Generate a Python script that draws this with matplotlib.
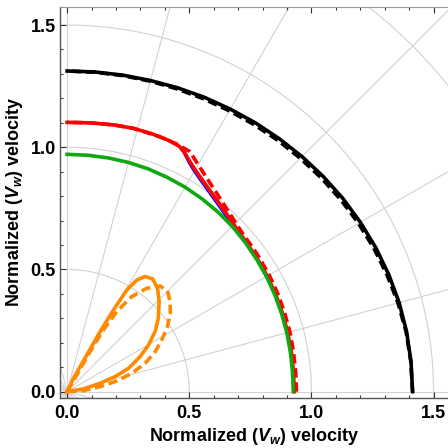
import numpy as np
import matplotlib as mpl
import matplotlib.pyplot as plt
from matplotlib.ticker import MultipleLocator

mpl.rcParams['font.family'] = ['Liberation Sans', 'DejaVu Sans']
mpl.rcParams['font.weight'] = 'bold'
mpl.rcParams['mathtext.fontset'] = 'custom'
mpl.rcParams['mathtext.rm'] = 'Liberation Sans:bold'
mpl.rcParams['mathtext.it'] = 'Liberation Sans:bold:italic'
mpl.rcParams['mathtext.bf'] = 'Liberation Sans:bold'

# polar curves: angle in degrees, normalized radius
black_theta = [0, 5, 10, 15, 20, 25, 30, 35, 40, 45, 50, 55, 60, 65, 70, 75, 80, 85, 90]
black_r = [1.414, 1.413, 1.411, 1.407, 1.401, 1.394, 1.386, 1.378, 1.369, 1.360,
           1.351, 1.343, 1.335, 1.329, 1.323, 1.318, 1.315, 1.313, 1.312]
black_dash_r = [1.414, 1.412, 1.409, 1.402, 1.394, 1.386, 1.377, 1.368, 1.359, 1.350,
                1.342, 1.334, 1.327, 1.322, 1.318, 1.315, 1.313, 1.312, 1.312]

green_theta = [0, 5, 10, 15, 20, 25, 30, 35, 40, 45, 50, 55, 60, 65, 70, 75, 80, 85, 90]
green_r = [0.926, 0.926, 0.928, 0.931, 0.934, 0.938, 0.942, 0.946, 0.951, 0.956,
           0.960, 0.963, 0.966, 0.968, 0.970, 0.971, 0.971, 0.971, 0.971]

red_theta = [0, 5, 10, 15, 20, 25, 30, 35, 40, 44, 48, 52, 56, 60, 62, 64, 65.5, 68, 72, 76, 80, 85, 90]
red_r = [0.930, 0.930, 0.932, 0.935, 0.938, 0.942, 0.946, 0.950, 0.955, 0.963, 0.977, 0.995,
         1.018, 1.048, 1.068, 1.092, 1.104, 1.109, 1.111, 1.111, 1.108, 1.104, 1.102]
blue_r = [0.932, 0.932, 0.934, 0.937, 0.940, 0.944, 0.948, 0.952, 0.957, 0.955, 0.967, 0.985,
          1.008, 1.038, 1.059, 1.086, 1.104, 1.109, 1.111, 1.111, 1.108, 1.104, 1.102]

red_dash_theta = [0, 5, 10, 15, 20, 25, 30, 35, 38, 41.8, 47.6, 53, 58.2, 62.9, 66, 70, 76, 80, 85, 90]
red_dash_r = [0.939, 0.939, 0.941, 0.944, 0.947, 0.951, 0.955, 0.959, 0.962, 0.966, 0.987, 1.017,
              1.056, 1.103, 1.108, 1.110, 1.111, 1.108, 1.104, 1.102]

orange_theta = [0, 9.3, 14.2, 17.4, 20.8, 25.6, 29.8, 34.3, 38.8, 44.4, 48.8, 52.8, 55.9,
                58.0, 59.6, 60.4, 61.2, 61.8, 64.6, 65]
orange_r = [0, 0.068, 0.139, 0.206, 0.269, 0.331, 0.384, 0.436, 0.479, 0.527, 0.562, 0.579,
            0.569, 0.539, 0.482, 0.384, 0.280, 0.170, 0.060, 0]

orange_dash_theta = [0, 3.5, 8.6, 12.1, 15.8, 20.0, 24.4, 28.6, 32.9, 37.2, 41.1, 45.1, 48.6,
                     52.4, 55.8, 58.2, 59.5, 60.1, 59.9, 60]
orange_dash_r = [0, 0.067, 0.137, 0.208, 0.275, 0.340, 0.396, 0.441, 0.489, 0.530, 0.560, 0.582,
                 0.576, 0.534, 0.470, 0.385, 0.293, 0.189, 0.079, 0]

ticks = [0.0, 0.5, 1.0, 1.5]
grid_radii = [0.5, 1.0, 1.5, 2.0]

grey = "#d2d2d2"


def to_xy(theta, r):
    t = np.radians(theta)
    r = np.asarray(r)
    return r * np.cos(t), r * np.sin(t)


fig = plt.figure(figsize=(4.48, 4.48), dpi=100)
ax = fig.add_axes([0.134, 0.1116, 0.866, 0.8734])

# polar grid
circ = np.linspace(0, 2 * np.pi, 400)
for rr in grid_radii:
    ax.plot(rr * np.cos(circ), rr * np.sin(circ), color=grey, lw=0.8, zorder=1)
for ang in range(0, 360, 15):
    a = np.radians(ang)
    ax.plot([0, 3 * np.cos(a)], [0, 3 * np.sin(a)], color=grey, lw=0.8, zorder=1)

lw = 2.6
dash = (2.6, 1.3)
ax.plot(*to_xy(black_theta, black_dash_r), color='black', lw=lw, dashes=dash, zorder=3)
ax.plot(*to_xy(black_theta, black_r), color='black', lw=lw, zorder=3)
ax.plot(*to_xy(red_theta, blue_r), color='#0000ff', lw=1.0, zorder=3)
ax.plot(*to_xy(red_dash_theta, red_dash_r), color='#ff0000', lw=lw, dashes=dash, zorder=4)
ax.plot(*to_xy(red_theta, red_r), color='#ff0000', lw=lw, zorder=4)
ax.plot(*to_xy(green_theta, green_r), color='#10a810', lw=lw, zorder=5)
ax.plot(*to_xy(orange_theta, orange_r), color='#ff8a00', lw=lw, zorder=5,
        solid_joinstyle='round')
ax.plot(*to_xy(orange_dash_theta, orange_dash_r), color='#ff8a00', lw=lw, dashes=dash, zorder=5)

ax.set_xlim(-0.029, 1.559)
ax.set_ylim(-0.026, 1.575)
ax.set_xticks(ticks)
ax.set_yticks(ticks)
ax.set_xticklabels([f"{t:.1f}" for t in ticks])
ax.set_yticklabels([f"{t:.1f}" for t in ticks])
ax.xaxis.set_minor_locator(MultipleLocator(0.1))
ax.yaxis.set_minor_locator(MultipleLocator(0.1))
ax.tick_params(which='both', direction='in', top=True, right=False, color='#333333', width=0.8)
ax.tick_params(which='major', length=4, labelsize=13)
ax.tick_params(which='minor', length=2)
ax.tick_params(axis='x', pad=5)
ax.tick_params(axis='y', pad=3)

for side in ['left', 'bottom']:
    ax.spines[side].set_color('#555555')
    ax.spines[side].set_linewidth(1.0)
ax.spines['top'].set_color('#999999')
ax.spines['right'].set_visible(False)

ax.set_xlabel(r'Normalized ($V_w$) velocity', fontsize=13, fontweight='bold', labelpad=3)
ax.set_ylabel(r'Normalized ($V_w$) velocity', fontsize=13, fontweight='bold', labelpad=4)

fig.savefig('out.png', dpi=100)
